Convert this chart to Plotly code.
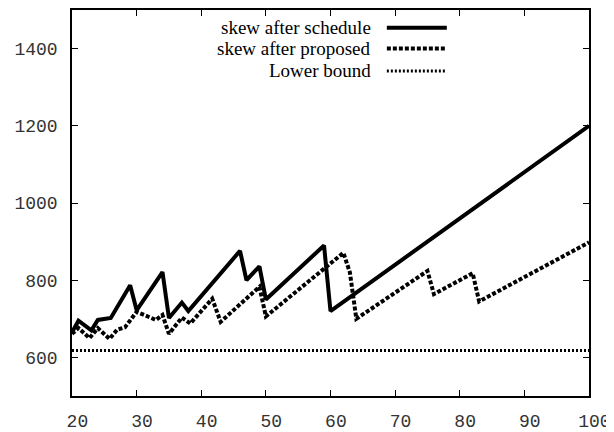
import plotly.graph_objects as go

# Data
schedule_x = [20, 21, 23, 24, 26, 29, 30, 34, 35, 37, 38, 46, 47, 49, 50, 59, 60, 100]
schedule_y = [665, 695, 670, 697, 702, 787, 722, 821, 702, 742, 720, 876, 800, 836, 750, 890, 720, 1200]

proposed_x = [20, 21, 22.7, 24, 25.8, 27, 28.2, 30, 33, 34, 35, 37, 38.3, 41.7, 43, 49, 50,
              62, 63, 64, 75, 76, 82, 83, 100]
proposed_y = [661, 676, 650, 676, 648, 672, 678, 718, 697, 710, 661, 703, 688, 752, 692, 783, 706,
              871, 820, 700, 824, 764, 818, 745, 898]

lower_x = [20, 100]
lower_y = [618, 618]

series_names = ["skew after schedule", "skew after proposed", "Lower bound"]
x_ticks = [20, 30, 40, 50, 60, 70, 80, 90, 100]
y_ticks = [600, 800, 1000, 1200, 1400]

styles = [
    dict(color="black", width=4, dash="solid"),
    dict(color="black", width=4, dash="4px,2px"),
    dict(color="black", width=3, dash="2px,2px"),
]

fig = go.Figure()
for xs, ys, name, st in zip([schedule_x, proposed_x, lower_x],
                            [schedule_y, proposed_y, lower_y],
                            series_names, styles):
    fig.add_trace(go.Scatter(x=xs, y=ys, mode="lines", name=name, line=st,
                             showlegend=False, cliponaxis=True))

# Manual legend (gnuplot style: text right-aligned, sample on the right)
legend_y = [0.954, 0.900, 0.842]
for name, st, ly in zip(series_names, styles, legend_y):
    fig.add_annotation(x=0.582, y=ly, xref="paper", yref="paper", text=name,
                       showarrow=False, xanchor="right", yanchor="middle",
                       font=dict(family="Liberation Serif", size=19, color="black"))
    fig.add_shape(type="line", xref="paper", yref="paper", x0=0.609, x1=0.725,
                  y0=ly, y1=ly, line=st)

axis_common = dict(showline=True, linecolor="black", linewidth=1.5, mirror="allticks",
                   ticks="inside", ticklen=6, tickcolor="black", tickwidth=1,
                   showgrid=False, zeroline=False,
                   tickfont=dict(family="Liberation Mono", size=18, color="#333"))

fig.update_xaxes(range=[20, 100], tickvals=x_ticks,
                 ticktext=["\u00a0" + str(v) for v in x_ticks],
                 ticklabelstandoff=8, **axis_common)
fig.update_yaxes(range=[500, 1500], tickvals=y_ticks, ticktext=[str(v) for v in y_ticks],
                 ticklabelstandoff=9, **axis_common)

# page body has an 8px default margin, so the figure is sized/offset to compensate
fig.update_layout(width=606, height=424, margin=dict(l=64, r=25, t=0, b=35),
                  plot_bgcolor="white", paper_bgcolor="white")

fig.write_html("out.html")
